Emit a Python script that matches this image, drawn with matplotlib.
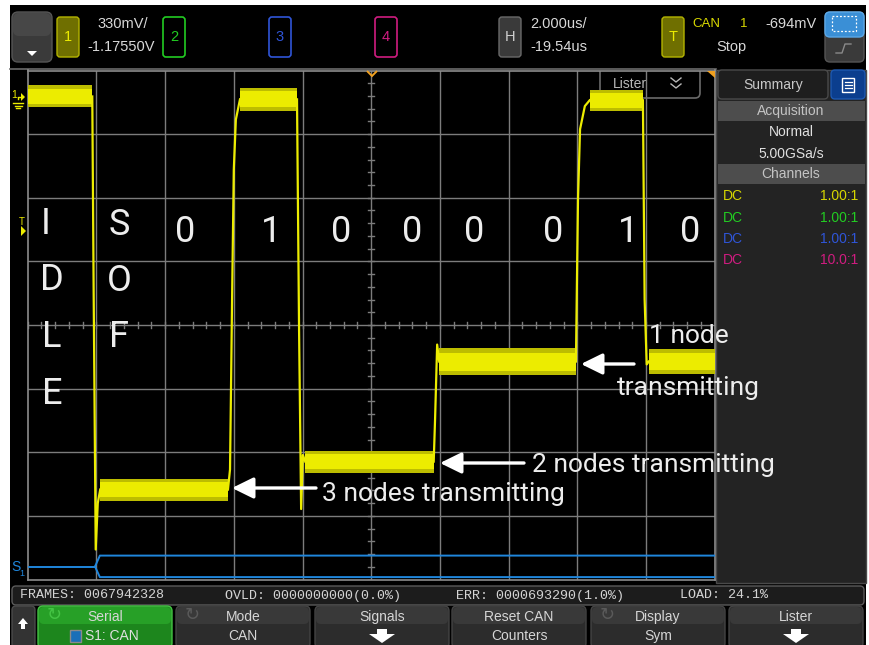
import matplotlib.pyplot as plt
from matplotlib.patches import FancyBboxPatch, Rectangle, Polygon

W, H = 869, 645

# scope settings from the header
volts_per_div = 0.33
offset = -1.1755
us_per_div = 2.0
h_pos = -19.54

# flat parts of the CAN trace (time in us, volts)
seg_start = [-29.54, -27.43, -23.36, -21.46, -17.56, -13.18, -11.46]
seg_end = [-27.66, -23.71, -21.70, -17.72, -13.58, -11.63, -9.54]
seg_level = [0.010, -2.029, -0.005, -1.884, -1.365, -0.010, -1.365]
seg_spread = [0.052, 0.052, 0.055, 0.052, 0.062, 0.050, 0.060]

# edges between the flat parts
edge_t = [[-27.66, -27.62, -27.56, -27.50, -27.43],
          [-23.71, -23.65, -23.59, -23.54, -23.48, -23.36],
          [-21.70, -21.64, -21.58, -21.53, -21.46],
          [-17.72, -17.68, -17.62, -17.56],
          [-13.58, -13.52, -13.46, -13.32, -13.18],
          [-11.63, -11.58, -11.52, -11.46]]
edge_v = [[0.010, -1.0, -2.34, -2.10, -2.029],
          [-2.029, -1.925, -1.04, -0.37, -0.11, -0.005],
          [-0.005, -1.2, -2.13, -1.85, -1.884],
          [-1.884, -1.66, -1.277, -1.365],
          [-1.365, -0.525, -0.16, -0.04, -0.010],
          [-0.010, -1.043, -1.38, -1.365]]

# serial bus S1
bus_idle_v = -2.4285
bus_hi_v = -2.3715
bus_lo_v = -2.483
bus_split_t = -27.58
bus_open_t = -27.44

bits = ['0', '1', '0', '0', '0', '0', '1', '0']
bit_x = [185, 271, 341, 412, 474, 553, 628, 690]
idle_word = ['I', 'D', 'L', 'E']
sof_word = ['S', 'O', 'F']

summary_rows = ['DC', 'DC', 'DC', 'DC']
probe_ratio = ['1.00:1', '1.00:1', '1.00:1', '10.0:1']
ch_colors = ['#d6d600', '#22cc22', '#2f55d8', '#d01c80']

softkey_top = ['Serial', 'Mode', 'Signals', 'Reset CAN', 'Display', 'Lister']
softkey_bottom = ['S1: CAN', 'CAN', None, 'Counters', 'Sym', None]

status_text = ['FRAMES: 0067942328', 'OVLD: 0000000000(0.0%)',
               'ERR: 0000693290(1.0%)', 'LOAD: 24.1%']

UI_FONT = 'Liberation Sans'
GRID = '#7c7c7c'
YEL = '#ecec00'


def rbox(ax, x0, y0, x1, y1, fc, ec='none', r=4, lw=1.0, z=1, **kw):
    p = FancyBboxPatch((x0, y0), x1 - x0, y1 - y0,
                       boxstyle='round,pad=0,rounding_size=%g' % r,
                       fc=fc, ec=ec, lw=lw, zorder=z, **kw)
    ax.add_patch(p)
    return p


def txt(ax, x, y, s, size=10.5, color='#d8d8d8', ha='left', va='center',
        family=UI_FONT, **kw):
    ax.text(x, y, s, fontsize=size, color=color, ha=ha, va=va,
            family=family, **kw)


fig = plt.figure(figsize=(W / 100, H / 100), dpi=100)
fig.patch.set_facecolor('white')

# ---- background chrome (pixel coordinates) ----
ui = fig.add_axes([0, 0, 1, 1])
ui.set_xlim(0, W)
ui.set_ylim(H, 0)
ui.axis('off')
ui.add_patch(Rectangle((10, 5), 856, 640, fc='black', ec='none', zorder=0))
ui.plot([10, 716], [69, 69], color='#6a6a6a', lw=1.2, zorder=1)

# top bar
rbox(ui, 12, 12, 52, 62, '#3a3a3a', '#555555', r=6)
rbox(ui, 13, 13, 51, 36, '#474747', r=6, z=1.5)
ui.add_patch(Polygon([[27, 51], [37, 51], [32, 56]], closed=True, fc='white', zorder=2))

rbox(ui, 57, 17, 79, 57, '#6f6f00', '#b4b400', r=3)
txt(ui, 68, 37, '1', color=YEL, ha='center')
txt(ui, 97, 24, '330mV/')
txt(ui, 87, 47, '-1.17550V')
for (xa, col, lab) in [(163, ch_colors[1], '2'), (269, ch_colors[2], '3'), (375, ch_colors[3], '4')]:
    rbox(ui, xa, 17, xa + 22, 57, 'black', col, r=3, lw=1.2)
    txt(ui, xa + 11, 37, lab, color=col, ha='center')

rbox(ui, 499, 17, 521, 57, '#3a3a3a', '#6a6a6a', r=3)
txt(ui, 510, 37, 'H', color='#d0d0d0', ha='center')
txt(ui, 530, 24, '2.000us/')
txt(ui, 530, 47, '-19.54us')

rbox(ui, 662, 17, 684, 57, '#6f6f00', '#b4b400', r=3)
txt(ui, 673, 37, 'T', color=YEL, ha='center')
txt(ui, 692, 24, 'CAN', color='#d8d800', size=9.5)
txt(ui, 740, 24, '1', color='#d8d800', size=9.5)
txt(ui, 765, 24, '-694mV')
txt(ui, 716, 47, 'Stop')

rbox(ui, 825, 12, 864, 62, '#3a3a3a', '#555555', r=5)
rbox(ui, 825, 12, 864, 37, '#3a8fd6', '#5aa8e8', r=5, z=1.5)
ui.add_patch(Rectangle((832, 16), 24, 15, fc='none', ec='white', lw=0.9,
                       ls=(0, (1.5, 1.5)), zorder=2))
ui.plot([836, 842, 845, 851], [53, 53, 44, 44], color='#8a8a8a', lw=1, zorder=2)

# right summary panel
ui.add_patch(Rectangle((716, 70), 150, 513, fc='#232323', ec='#4a4a4a', lw=1, zorder=1))
rbox(ui, 718, 70, 828, 99, '#1e1e1e', '#4a4a4a', r=4, z=1.5)
txt(ui, 773, 85, 'Summary', color='#c8c8c8', ha='center', size=10)
rbox(ui, 831, 70, 865, 99, '#0b3e8e', '#1d58b0', r=4, z=1.5)
ui.add_patch(Rectangle((842, 78), 12, 14, fc='none', ec='white', lw=1, zorder=2))
for yy in (82, 85, 88):
    ui.plot([844.5, 851.5], [yy, yy], color='white', lw=0.9, zorder=2)
ui.add_patch(Rectangle((718, 101), 147, 20, fc='#4d4d4d', ec='none', zorder=1.5))
txt(ui, 791, 111, 'Acquisition', color='#c4c4c4', ha='center', size=10)
txt(ui, 791, 132, 'Normal', color='#e0e0e0', ha='center', size=10)
txt(ui, 791, 154, '5.00GSa/s', color='#e0e0e0', ha='center', size=10)
ui.add_patch(Rectangle((718, 164), 147, 20, fc='#4d4d4d', ec='none', zorder=1.5))
txt(ui, 791, 174, 'Channels', color='#c4c4c4', ha='center', size=10)
for i, (lab, ratio) in enumerate(zip(summary_rows, probe_ratio)):
    yy = 196 + i * 21.5
    txt(ui, 723, yy, lab, color=ch_colors[i], size=10)
    txt(ui, 858, yy, ratio, color=ch_colors[i], size=10, ha='right')

# status bar
rbox(ui, 12, 586, 864, 605, '#1c1c1c', '#5a5a5a', r=4)
for xs, s in zip([20, 225, 456, 680], status_text):
    txt(ui, xs, 595.5, s, family='Liberation Mono', size=9.6, color='#d4d4d4')

# softkeys
rbox(ui, 12, 606, 35, 648, '#333333', '#4a4a4a', r=4)
ui.add_patch(Polygon([[18, 624], [28, 624], [23, 618]], closed=True, fc='white', zorder=2))
ui.add_patch(Rectangle((21, 624), 4, 5, fc='white', ec='none', zorder=2))
key_x = [38, 176, 315, 452, 591, 729]
for i, x0 in enumerate(key_x):
    x1 = x0 + 134
    cx = (x0 + x1) / 2
    if i == 0:
        rbox(ui, x0, 606, x1, 648, '#1d861d', '#44c444', r=5)
        rbox(ui, x0 + 1, 607, x1 - 1, 624, '#27a027', r=5, z=1.5)
    else:
        rbox(ui, x0, 606, x1, 648, '#2c2c2c', '#444444', r=5)
        rbox(ui, x0 + 1, 607, x1 - 1, 624, '#393939', r=5, z=1.5)
    txt(ui, cx, 617, softkey_top[i], color='#d6d6d6', ha='center', size=10, zorder=3)
    if softkey_bottom[i] is None:
        ui.add_patch(Polygon([[cx - 13, 634], [cx + 13, 634], [cx, 643]], closed=True,
                             fc='white', zorder=3))
        ui.add_patch(Rectangle((cx - 5, 629), 10, 5.5, fc='white', ec='none', zorder=3))
    elif i == 0:
        txt(ui, cx + 7, 636, softkey_bottom[i], color='#e0e0e0', ha='center', size=10, zorder=3)
        ui.add_patch(Rectangle((70, 630), 11, 12, fc='#1a6fb8', ec='#8a8a8a', lw=1, zorder=3))
    else:
        txt(ui, cx, 636, softkey_bottom[i], color='#d6d6d6', ha='center', size=10, zorder=3)
    if i in (0, 1, 4):
        col = '#44c444' if i == 0 else '#5a5a5a'
        txt(ui, x0 + 16, 615, '\u21bb', color=col, ha='center', size=13,
            family='DejaVu Sans', zorder=3)

# ---- scope graticule ----
gx0, gx1, gy0, gy1 = 27.7, 714.7, 70.5, 579.5
ax = fig.add_axes([gx0 / W, 1 - gy1 / H, (gx1 - gx0) / W, (gy1 - gy0) / H], zorder=1)
ax.set_facecolor('black')
t_lo, t_hi = h_pos - 5 * us_per_div, h_pos + 5 * us_per_div
v_lo, v_hi = offset - 4 * volts_per_div, offset + 4 * volts_per_div
ax.set_xlim(t_lo, t_hi)
ax.set_ylim(v_lo, v_hi)
ax.set_xticks([])
ax.set_yticks([])
for sp in ax.spines.values():
    sp.set_color('#8c8c8c')
    sp.set_linewidth(1.2)
for i in range(1, 10):
    ax.axvline(t_lo + i * us_per_div, color=GRID, lw=1, zorder=1)
for j in range(1, 8):
    ax.axhline(v_lo + j * volts_per_div, color=GRID, lw=1, zorder=1)

# minor ticks on the centre cross
dt_px = us_per_div / 68.7
dv_px = volts_per_div / 63.6
for k in range(-25, 26):
    tt = h_pos + k * us_per_div / 5
    ax.plot([tt, tt], [offset - 3 * dv_px, offset + 3 * dv_px], color=GRID, lw=1, zorder=1)
for k in range(-20, 21):
    vv = offset + k * volts_per_div / 5
    ax.plot([h_pos - 3 * dt_px, h_pos + 3 * dt_px], [vv, vv], color=GRID, lw=1, zorder=1)

# lister box drawn in pixel coordinates under the trace
rbox(ax, 600, 64, 700, 98, 'none', '#6a6a6a', r=5, lw=1.2, z=2, transform=ui.transData)
ax.text(630, 84, 'Lister', transform=ui.transData, fontsize=10, color='#b8b8b8',
        ha='center', va='center', family=UI_FONT, zorder=2)
ax.plot([671, 676, 681], [78, 82, 78], transform=ui.transData, color='#b8b8b8', lw=1, zorder=2)
ax.plot([671, 676, 681], [84, 88, 84], transform=ui.transData, color='#b8b8b8', lw=1, zorder=2)

# CAN trace
for s, e, lvl, sp in zip(seg_start, seg_end, seg_level, seg_spread):
    ax.fill_between([s, e], lvl - sp * 1.1, lvl + sp * 1.1, color='#bdbd00', lw=0, zorder=3)
    ax.fill_between([s, e], lvl - sp * 0.75, lvl + sp * 0.75, color=YEL, lw=0, zorder=3)
for et, ev in zip(edge_t, edge_v):
    ax.plot(et, ev, color=YEL, lw=1.6, zorder=3)

# serial bus
bus_col = '#1f86dc'
ax.plot([t_lo, bus_split_t], [bus_idle_v, bus_idle_v], color=bus_col, lw=1.4, zorder=3)
ax.plot([bus_split_t, bus_open_t, t_hi], [bus_idle_v, bus_hi_v, bus_hi_v], color=bus_col, lw=1.4, zorder=3)
ax.plot([bus_split_t, bus_open_t, t_hi], [bus_idle_v, bus_lo_v, bus_lo_v], color=bus_col, lw=1.4, zorder=3)

# ---- overlay: markers, labels, arrows ----
ov = fig.add_axes([0, 0, 1, 1], zorder=3)
ov.set_xlim(0, W)
ov.set_ylim(H, 0)
ov.axis('off')
ov.patch.set_alpha(0)

ov.add_patch(Polygon([[367, 71], [372, 76], [377, 71]], closed=False, fill=False,
                     ec='#f0a020', lw=1.4))
ov.add_patch(Polygon([[707, 70.5], [714.5, 70.5], [714.5, 78]], closed=True, fc='#f0a020', ec='none'))

# channel 1 / trigger / S1 markers on the left
txt(ov, 14, 95, '1', color=YEL, size=7.5, ha='center')
ov.add_patch(Polygon([[21, 93], [25, 97], [21, 101]], closed=True, fc=YEL))
ov.plot([18, 18, 21], [99, 97, 97], color=YEL, lw=1)
for yy, hw in [(103, 5), (105.5, 3.5), (108, 2)]:
    ov.plot([18 - hw, 18 + hw], [yy, yy], color=YEL, lw=1)
txt(ov, 22, 222, 'T', color=YEL, size=7, ha='center')
ov.add_patch(Polygon([[21, 226], [26, 231], [21, 236]], closed=True, fc=YEL))
txt(ov, 16, 567, 'S', color=bus_col, size=10, ha='center')
txt(ov, 22, 574, '1', color=bus_col, size=6.5, ha='center')

LABEL = dict(family='Roboto', fontweight='normal', color='#ededed')
for b, xb in zip(bits, bit_x):
    ov.text(xb, 242, b, fontsize=26, ha='center', va='baseline', **LABEL)
for ch, yb in zip(idle_word, [234, 290, 347, 404]):
    ov.text(52 if ch != 'I' else 46, yb, ch, fontsize=26, ha='center', va='baseline', **LABEL)
for ch, yb in zip(sof_word, [235, 291, 347]):
    ov.text(119, yb, ch, fontsize=26, ha='center', va='baseline', **LABEL)

ov.text(322, 501, '3 nodes transmitting', fontsize=19, ha='left', va='baseline', **LABEL)
ov.text(532, 472, '2 nodes transmitting', fontsize=19, ha='left', va='baseline', **LABEL)
ov.text(649, 343, '1 node', fontsize=19, ha='left', va='baseline', **LABEL)
ov.text(617, 395, 'transmitting', fontsize=19, ha='left', va='baseline', **LABEL)

arrow = dict(arrowstyle='-|>,head_length=0.65,head_width=0.32', color='white',
             lw=2.4, mutation_scale=20, shrinkA=0, shrinkB=0)
ov.annotate('', xy=(232, 488), xytext=(316, 488), arrowprops=arrow)
ov.annotate('', xy=(440, 463), xytext=(524, 463), arrowprops=arrow)
ov.annotate('', xy=(581, 364), xytext=(634, 364), arrowprops=arrow)

fig.savefig('out.png', dpi=100, facecolor=fig.get_facecolor())
